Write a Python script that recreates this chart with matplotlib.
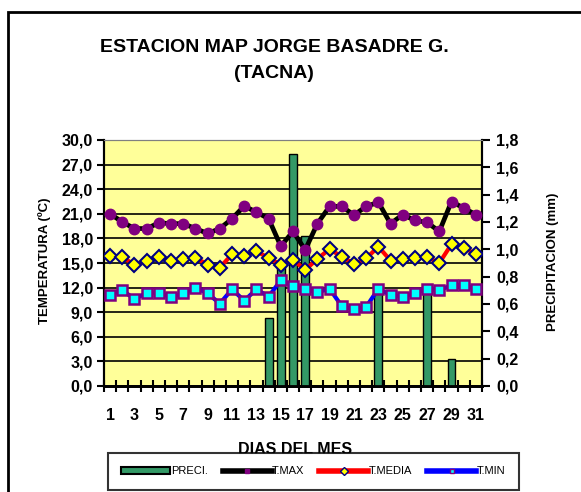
import numpy as np
import matplotlib
matplotlib.use("Agg")
import matplotlib.pyplot as plt
from matplotlib.lines import Line2D
from matplotlib.patches import Patch, Rectangle
# --------------------------------------------------------------------------------------------------
# data
days = list(range(1, 32))
tmax = [21.0, 20.0, 19.2, 19.2, 19.9, 19.8, 19.8, 19.2, 18.6, 19.2, 20.4, 21.95, 21.2, 20.4, 17.05,
        18.85, 16.6, 19.8, 21.9, 21.9, 20.85, 21.9, 22.4, 19.8, 20.9, 20.2, 19.95, 18.85, 22.5, 21.7, 20.9]
tmedia = [15.9, 15.7, 14.8, 15.2, 15.7, 15.2, 15.45, 15.65, 14.8, 14.45, 16.05, 15.85, 16.45, 15.6, 14.8,
          15.4, 14.15, 15.5, 16.7, 15.75, 14.9, 15.55, 17.0, 15.3, 15.5, 15.55, 15.7, 15.0, 17.3, 16.85, 16.1]
tmin = [11.1, 11.7, 10.6, 11.35, 11.4, 10.8, 11.3, 12.0, 11.3, 10.05, 11.8, 10.4, 11.8, 10.9, 12.9,
        12.2, 11.8, 11.45, 11.85, 9.75, 9.35, 9.65, 11.85, 11.1, 10.9, 11.3, 11.85, 11.65, 12.3, 12.3, 11.85]
precip = [0, 0, 0, 0, 0, 0, 0, 0, 0, 0, 0, 0, 0, 0.5, 0.9, 1.7, 1.1, 0, 0, 0, 0, 0, 0.7,
          0, 0, 0, 0.7, 0, 0.2, 0, 0]
temp_ticks = [0, 3, 6, 9, 12, 15, 18, 21, 24, 27, 30]
temp_labels = ["0,0", "3,0", "6,0", "9,0", "12,0", "15,0", "18,0", "21,0", "24,0", "27,0", "30,0"]
prec_ticks = [0, 0.2, 0.4, 0.6, 0.8, 1.0, 1.2, 1.4, 1.6, 1.8]
prec_labels = ["0,0", "0,2", "0,4", "0,6", "0,8", "1,0", "1,2", "1,4", "1,6", "1,8"]
day_labels = [str(d) for d in days[::2]]
# --------------------------------------------------------------------------------------------------
W, H = 581, 492
FILE_FIG = "out.png"


def main():
    plt.rcParams["font.family"] = "Liberation Sans"
    plt.rcParams["font.weight"] = "bold"

    fig = plt.figure(figsize=(W / 100, H / 100), dpi=100)
    rect = [104 / W, 1 - 386 / H, 378 / W, 246 / H]

    # temperature axis (background + grid)
    ax = fig.add_axes(rect)
    ax.set_facecolor("#FFFF99")
    ax.set_xlim(0.5, 31.5)
    ax.set_ylim(0, 30)
    ax.set_yticks(temp_ticks)
    ax.set_yticklabels(temp_labels, fontsize=11.5, fontweight="bold")
    ax.yaxis.grid(True, color="black", linewidth=1.2)
    ax.set_axisbelow(True)
    ax.set_xticks(np.arange(0.5, 32, 1))
    ax.set_xticklabels([])
    ax.set_xticks(days[::2], minor=True)
    ax.set_xticklabels(day_labels, minor=True, fontsize=11.5, fontweight="bold")
    ax.tick_params(axis="x", which="major", direction="inout", length=9, width=1.5)
    ax.tick_params(axis="x", which="minor", length=0, pad=16)
    ax.tick_params(axis="y", direction="out", length=5, width=1.5, pad=3)

    # precipitation axis (bars)
    ax2 = ax.twinx()
    ax2.bar(days, precip, width=0.65, color="#339966", edgecolor="black", linewidth=1)
    ax2.set_ylim(0, 1.8)
    ax2.set_yticks(prec_ticks)
    ax2.set_yticklabels(prec_labels, fontsize=11.5, fontweight="bold")
    ax2.tick_params(axis="y", direction="out", length=6, width=1.5, pad=4)

    for a in (ax, ax2):
        a.spines["top"].set_color("#808080")
        a.spines["left"].set_linewidth(1.5)
        a.spines["right"].set_linewidth(1.5)
        a.spines["bottom"].set_linewidth(2)

    # lines on top of the bars, same temperature scale
    ax3 = fig.add_axes(rect, sharex=ax, sharey=ax)
    ax3.set_axis_off()
    ax3.plot(days, tmax, color="black", linewidth=3.4, marker="o", markersize=7.5,
             markerfacecolor="#800080", markeredgecolor="#800080")
    ax3.plot(days, tmedia, color="red", linewidth=3, marker="D", markersize=7.5,
             markerfacecolor="yellow", markeredgecolor="#000080", markeredgewidth=1.5)
    ax3.plot(days, tmin, color="blue", linewidth=3, marker="s", markersize=7.2,
             markerfacecolor="cyan", markeredgecolor="#800080", markeredgewidth=1.8)

    # texts
    fig.text(274 / W, 1 - 47 / H, "ESTACION MAP JORGE BASADRE G.", ha="center", va="center",
             fontsize=14, fontweight="bold")
    fig.text(274 / W, 1 - 74 / H, "(TACNA)", ha="center", va="center",
             fontsize=14, fontweight="bold")
    fig.text(45 / W, 1 - 261 / H, "TEMPERATURA (ºC)", rotation=90, ha="center", va="center",
             fontsize=9.5, fontweight="bold")
    fig.text(553 / W, 1 - 262 / H, "PRECIPITACION (mm)", rotation=90, ha="center", va="center",
             fontsize=9.5, fontweight="bold")
    fig.text(295 / W, 1 - 449 / H, "DIAS DEL MES", ha="center", va="center",
             fontsize=11.5, fontweight="bold")

    # legend
    handles = [
        Patch(facecolor="#339966", edgecolor="black", linewidth=1.5),
        Line2D([], [], color="black", linewidth=4, marker="s", markersize=2.5,
               markerfacecolor="#800080", markeredgecolor="#800080"),
        Line2D([], [], color="red", linewidth=4, marker="D", markersize=4,
               markerfacecolor="yellow", markeredgecolor="#000080", markeredgewidth=1),
        Line2D([], [], color="blue", linewidth=4, marker="s", markersize=3.5,
               markerfacecolor="cyan", markeredgecolor="#800080", markeredgewidth=1),
    ]
    leg = fig.legend(handles, ["PRECI.", "T.MAX", "T.MEDIA", "T.MIN"], ncol=4,
                     loc="upper left", bbox_to_anchor=(108 / W, 1 - 453 / H),
                     prop={"family": "Liberation Sans", "size": 8, "weight": "normal"},
                     frameon=True, fancybox=False, edgecolor="black", borderpad=1.2,
                     handlelength=4.4, handleheight=0.5, handletextpad=0.05,
                     columnspacing=1.35, borderaxespad=0)
    leg.get_frame().set_linewidth(1.5)

    # outer chart frame
    fig.patches.append(Rectangle((8 / W, -0.1), 1.2, 1.1 - 12 / H, transform=fig.transFigure,
                                 fill=False, edgecolor="black", linewidth=2))

    fig.savefig(FILE_FIG, dpi=100)
    plt.close(fig)


if __name__ == '__main__':
    main()
